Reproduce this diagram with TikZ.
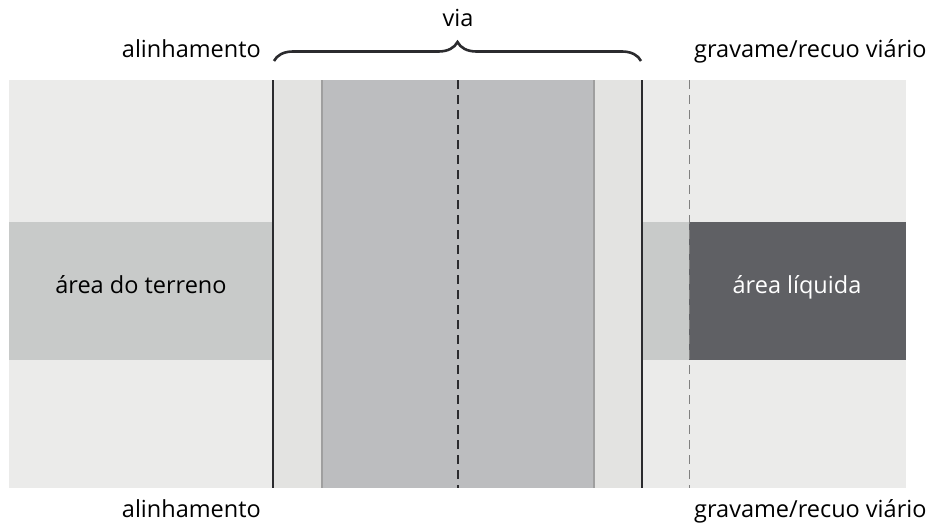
\documentclass[tikz,border=0pt]{standalone}
\usepackage{fontspec}
\setmainfont{Open Sans}
\usetikzlibrary{decorations.pathreplacing}
\definecolor{fundo}{HTML}{EBEBEA}
\definecolor{calcada}{HTML}{E3E3E1}
\definecolor{leito}{HTML}{BCBDBF}
\definecolor{terreno}{HTML}{C8CAC9}
\definecolor{liquida}{HTML}{5F6064}
\definecolor{limite}{HTML}{2B2B2E}
\tikzset{
  rotulo/.style={font=\fontsize{23.5}{28}\selectfont,inner sep=0pt,anchor=base},
  divisa/.style={draw=limite,line width=1.6pt},
  meiofio/.style={draw=gray!75,line width=1.4pt},
}
\begin{document}
\begin{tikzpicture}[x=1pt,y=-1pt]
      \useasboundingbox (0,0) rectangle (944,527);
      % lotes e via
      \fill[fundo](9,80)rectangle(906,488);
      \fill[calcada](273,80)rectangle(642,488);
      \fill[leito](322,80)rectangle(594,488);
      \fill[terreno](9,222)rectangle(273,360);
      \fill[terreno](642,222)rectangle(689,360);
      \fill[liquida](689,222)rectangle(906,360);
      \draw[divisa](273,80)--(273,488);
      \draw[divisa](642,80)--(642,488);
      \draw[meiofio](322,80)--(322,488);
      \draw[meiofio](594,80)--(594,488);
      \draw[limite,line width=1.1pt,dash pattern=on 9pt off 6pt](458,80)--(458,488);
      \draw[gray,line width=1pt,dash pattern=on 9pt off 6pt](689,80)--(689,488);
      % textos
      \node[rotulo](terr) at (141,293){área do terreno};
      \node[rotulo,text=white](liq) at (797,293){área líquida};
      \coordinate (chE) at (274,61);
      \coordinate (chD) at (641,61);
      \draw[limite,line width=2.6pt,decorate,decoration={brace,amplitude=19pt}](chE)--(chD);
      \node[rotulo](via) at (458,27){via};
      \node[rotulo,anchor=base east](alinhS) at (261,58){alinhamento};
      \node[rotulo,anchor=base west](gravS) at (694,58){gravame/recuo viário};
      \node[rotulo,anchor=base east](alinhI) at (261,517){alinhamento};
      \node[rotulo,anchor=base west](gravI) at (694,517){gravame/recuo viário};
\end{tikzpicture}
\end{document}
